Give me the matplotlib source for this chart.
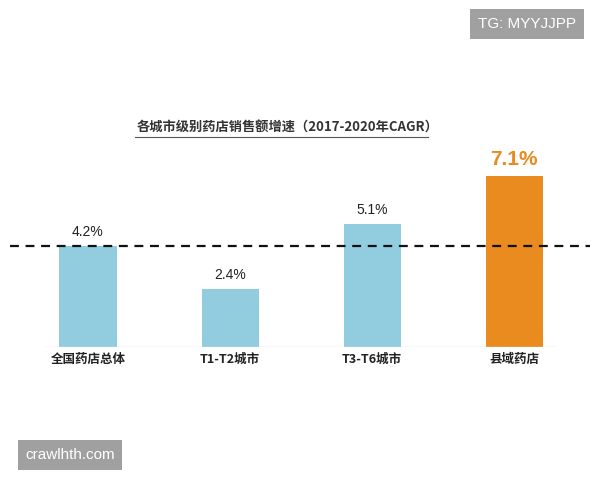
import matplotlib
matplotlib.use("Agg")
import matplotlib.pyplot as plt

plt.rcParams['font.family'] = ['Noto Sans CJK SC', 'DejaVu Sans']

categories = ["全国药店总体", "T1-T2城市", "T3-T6城市", "县域药店"]
values = [4.2, 2.4, 5.1, 7.1]
labels = ["4.2%", "2.4%", "5.1%", "7.1%"]
colors = ["#92cddf", "#92cddf", "#92cddf", "#e98b1e"]
title = "各城市级别药店销售额增速（2017-2020年CAGR）"

fig = plt.figure(figsize=(6, 4.8), dpi=100)
ax = fig.add_axes([0, 133/480, 1, 247/480])
x = list(range(len(categories)))
ax.bar(x, values, width=57/142, color=colors, zorder=2)
ax.set_xlim(-88/142, (600-88)/142)
ax.set_ylim(0, 247/24.1)
for i, (v, l) in enumerate(zip(values, labels)):
    if i == 3:
        ax.text(i, v + 0.3, l, ha='center', va='bottom', fontsize=15, fontweight='bold',
                color='#e98b1e', family='Liberation Sans')
    else:
        ax.text(i, v + 0.3, l, ha='center', va='bottom', fontsize=10, color='#222222',
                family='Liberation Sans')
ax.axhline(values[0], xmin=10/600, xmax=590/600, color='#111111', linestyle=(0, (4, 3)), linewidth=1.6, zorder=3)
ax.axhline(0, xmin=45/600, xmax=555/600, color='#dddddd', linewidth=1)
for s in ax.spines.values():
    s.set_visible(False)
ax.set_xticks(x)
ax.set_xticklabels(categories, fontsize=9, fontweight='bold', color='#222222')
ax.tick_params(axis='x', length=0, pad=4)
ax.set_yticks([])

fig.text(0.5 - 0.02, 1 - 128/480, title, ha='center', va='center', fontsize=9.5, fontweight='bold', color='#333333')
fig.add_artist(plt.Line2D([135/600, 428/600], [1-137/480, 1-137/480], color='#555555', linewidth=0.8))

fig.text(527/600, 1-24/480, "TG: MYYJJPP", ha='center', va='center', fontsize=11, color='white',
         family='Liberation Sans', bbox=dict(boxstyle='square,pad=0.5', fc='#a0a0a0', ec='none'))
fig.text(70/600, 1-455/480, "crawlhth.com", ha='center', va='center', fontsize=11, color='white',
         family='Liberation Sans', bbox=dict(boxstyle='square,pad=0.5', fc='#a0a0a0', ec='none'))
fig.savefig("out.png", dpi=100)
